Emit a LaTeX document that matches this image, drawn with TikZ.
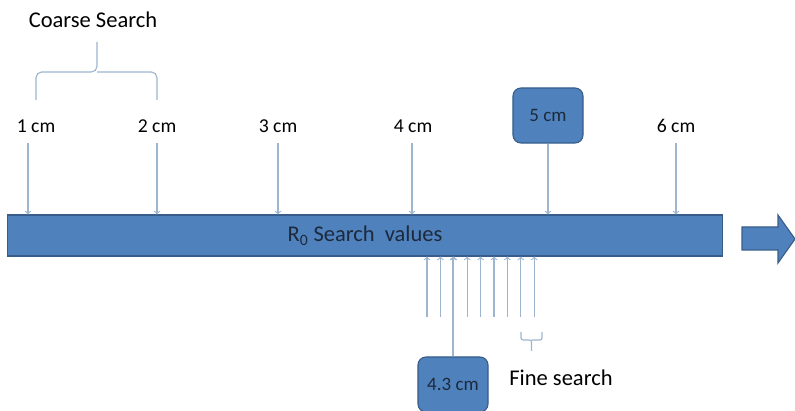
\documentclass[tikz,border=0pt]{standalone}
\usepackage{fontspec}
\setmainfont{Carlito}
\usepackage{tikz}
\usetikzlibrary{shapes,arrows}
\usetikzlibrary{calc}
\usetikzlibrary{positioning}
\definecolor{barblue}{HTML}{4F81BD}
\definecolor{bardark}{HTML}{385D8A}
\definecolor{pointer}{HTML}{9DB5CE}
\definecolor{ink}{HTML}{1C2A3C}
\tikzstyle{bar} = [draw=bardark, fill=barblue, rectangle, line width=0.8pt,
    minimum height=1.025cm, minimum width=17.85cm, text=ink]
\tikzstyle{box} = [draw=bardark, fill=barblue, rectangle, rounded corners=0.2cm,
    line width=0.8pt, minimum height=1.375cm, minimum width=1.75cm,
    font=\fontsize{13.5}{15}\selectfont, text=ink]
\tikzstyle{tick} = [font=\fontsize{14}{16}\selectfont, inner sep=1pt]
\tikzstyle{caption} = [font=\fontsize{16}{18}\selectfont]
\tikzstyle{ptr} = [->, draw=pointer, line width=0.8pt]
\tikzstyle{input} = [coordinate]

\begin{document}
\begin{tikzpicture}[x=0.025cm, y=-0.025cm, >=to]
    \useasboundingbox (0,0) rectangle (795,411);

    \node [bar] (bar) at (365,235.5) {\fontsize{16}{18}\selectfont R\textsubscript{0}\ Search\ \ values};
    \draw [draw=bardark, fill=barblue, line width=0.8pt] (742,227) -- (778,227) -- (778,215)
        -- (795,239) -- (778,263) -- (778,250) -- (742,250) -- cycle;

    \node [tick] (t1) at (36,126) {1 cm};
    \node [tick] (t2) at (157,126) {2 cm};
    \node [tick] (t3) at (278,126) {3 cm};
    \node [tick] (t4) at (413,126) {4 cm};
    \node [box] (t5) at (548,115.5) {5 cm};
    \node [tick] (t6) at (676,126) {6 cm};

    \node [input] (c1) at (28,143) {};
    \node [input] (c2) at (157,143) {};
    \node [input] (c3) at (278,143) {};
    \node [input] (c4) at (412,143) {};
    \node [input] (c6) at (676,143) {};

    \draw [ptr] (c1) -- (c1 |- bar.north);
    \draw [ptr] (c2) -- (c2 |- bar.north);
    \draw [ptr] (c3) -- (c3 |- bar.north);
    \draw [ptr] (c4) -- (c4 |- bar.north);
    \draw [ptr] (t5) -- (t5 |- bar.north);
    \draw [ptr] (c6) -- (c6 |- bar.north);

    % coarse brace
    \node [caption] (coarse) at (93,20) {Coarse Search};
    \draw [draw=pointer, line width=0.8pt, rounded corners=4pt]
        (36,100) -- (36,72) -- (97,72) -- (97,42) (97,72) -- (157,72) -- (157,100);

    % fine steps
    \foreach \i in {0,...,8} {
        \node [input] (f\i) at (427+13.4*\i,317) {};
        \draw [ptr] (f\i) -- (f\i |- bar.south);
    }
    \node [box] (fine) at (453,384.5) {4.3 cm};
    \draw [ptr] (fine) -- (fine |- bar.south);

    % fine brace
    \draw [draw=pointer, line width=0.8pt, rounded corners=1.5pt]
        (521,332) -- (521,340) -- (531.5,340) -- (531.5,351) (531.5,340) -- (542,340) -- (542,332);
    \node [caption] (finetext) at (561,378) {Fine search};
\end{tikzpicture}
\end{document}
